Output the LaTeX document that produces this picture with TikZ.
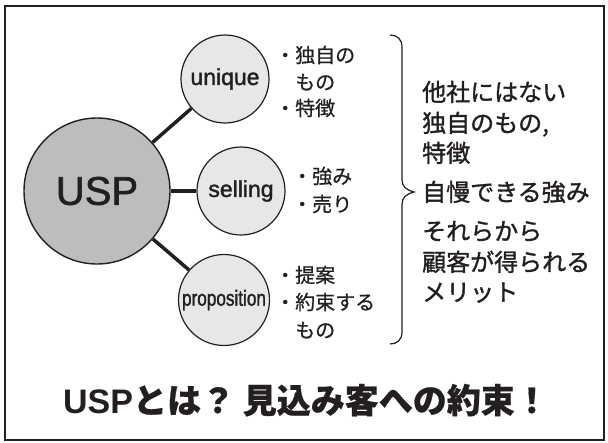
\documentclass[tikz,border=0pt]{standalone}
\usepackage{fontspec}
\setmainfont{Liberation Sans}
\newfontfamily\jp{Noto Sans CJK JP}[FakeBold=0.6]
\newfontfamily\jpm{Noto Sans CJK JP}[FakeBold=1.3]
\newfontfamily\labfont{Liberation Sans}[FakeBold=1.6]
\definecolor{uspgray}{HTML}{BCBDBF}
\definecolor{lightc}{HTML}{E6E7E8}
\definecolor{ink}{HTML}{231F20}
\begin{document}
\begin{tikzpicture}[x=1pt,y=-1pt,
  bigc/.style={circle, draw=ink, line width=1.4pt, fill=uspgray, minimum size=146pt, inner sep=0, text=ink},
  smallc/.style={circle, draw=ink, line width=1.2pt, fill=lightc, minimum size=88pt, inner sep=0, text=ink},
  conn/.style={line width=3.5pt, draw=ink},
  item/.style={anchor=base west, inner sep=0, font=\jp\fontsize{20}{24}\selectfont, text=ink},
  mainline/.style={anchor=base west, inner sep=0, font=\jpm\fontsize{24}{28}\selectfont, text=ink},
  braceline/.style={draw=ink, line width=1.2pt}]
\useasboundingbox (0,0) rectangle (608,442);
\draw[draw=ink, line width=2pt] (4.5,5.5) rectangle (603.5,439.5);

% circles
\node[bigc, font=\labfont\fontsize{40}{44}\selectfont] (usp) at (97,191) {USP};
\node[smallc, font=\labfont\fontsize{23}{26}\selectfont] (uni) at (225,79) {unique};
\node[smallc, font=\labfont\fontsize{23}{26}\selectfont] (sel) at (241,191) {selling};
\node[smallc, minimum size=91pt, font=\labfont\fontsize{22}{26}\selectfont] (pro) at (224,300) {\scalebox{0.78}[1]{proposition}};

% connectors
\draw[conn] (usp) -- (uni);
\draw[conn] (usp) -- (sel);
\draw[conn] (usp) -- (pro);

% bullet items
\node[item] (u1) at (275,62.6) {・独自の};
\node[item] (u2) at (295,89.6) {もの};
\node[item] (u3) at (275,115.6) {・特徴};
\node[item] (s1) at (292,183.6) {・強み};
\node[item] (s2) at (292,211.6) {・売り};
\node[item] (p1) at (275,282.6) {・提案};
\node[item] (p2) at (275,309.6) {・約束する};
\node[item] (p3) at (295,337.6) {もの};

% brace
\draw[braceline] (390,35) .. controls (397,35) and (402,39) .. (402,47)
  -- (402,180) .. controls (402,186) and (406,190) .. (414,192)
  .. controls (406,194) and (402,198) .. (402,204)
  -- (402,332) .. controls (402,340) and (397,344) .. (390,344);

% right text
\node[mainline] (m1) at (422,101) {他社にはない};
\node[mainline] (m2) at (422,132) {独自のもの,};
\node[mainline] (m3) at (422,162) {特徴};
\node[mainline] (m4) at (422,201) {自慢できる強み};
\node[mainline] (m5) at (422,240) {それらから};
\node[mainline] (m6) at (422,271) {顧客が得られる};
\node[mainline] (m7) at (422,301) {メリット};

% title
\node[anchor=base, inner sep=0, text=ink, font=\bfseries\fontsize{34}{38}\selectfont] (title) at (306,413) {USP{\jp\bfseries とは？ 見込み客への約束！}};
\end{tikzpicture}
\end{document}
